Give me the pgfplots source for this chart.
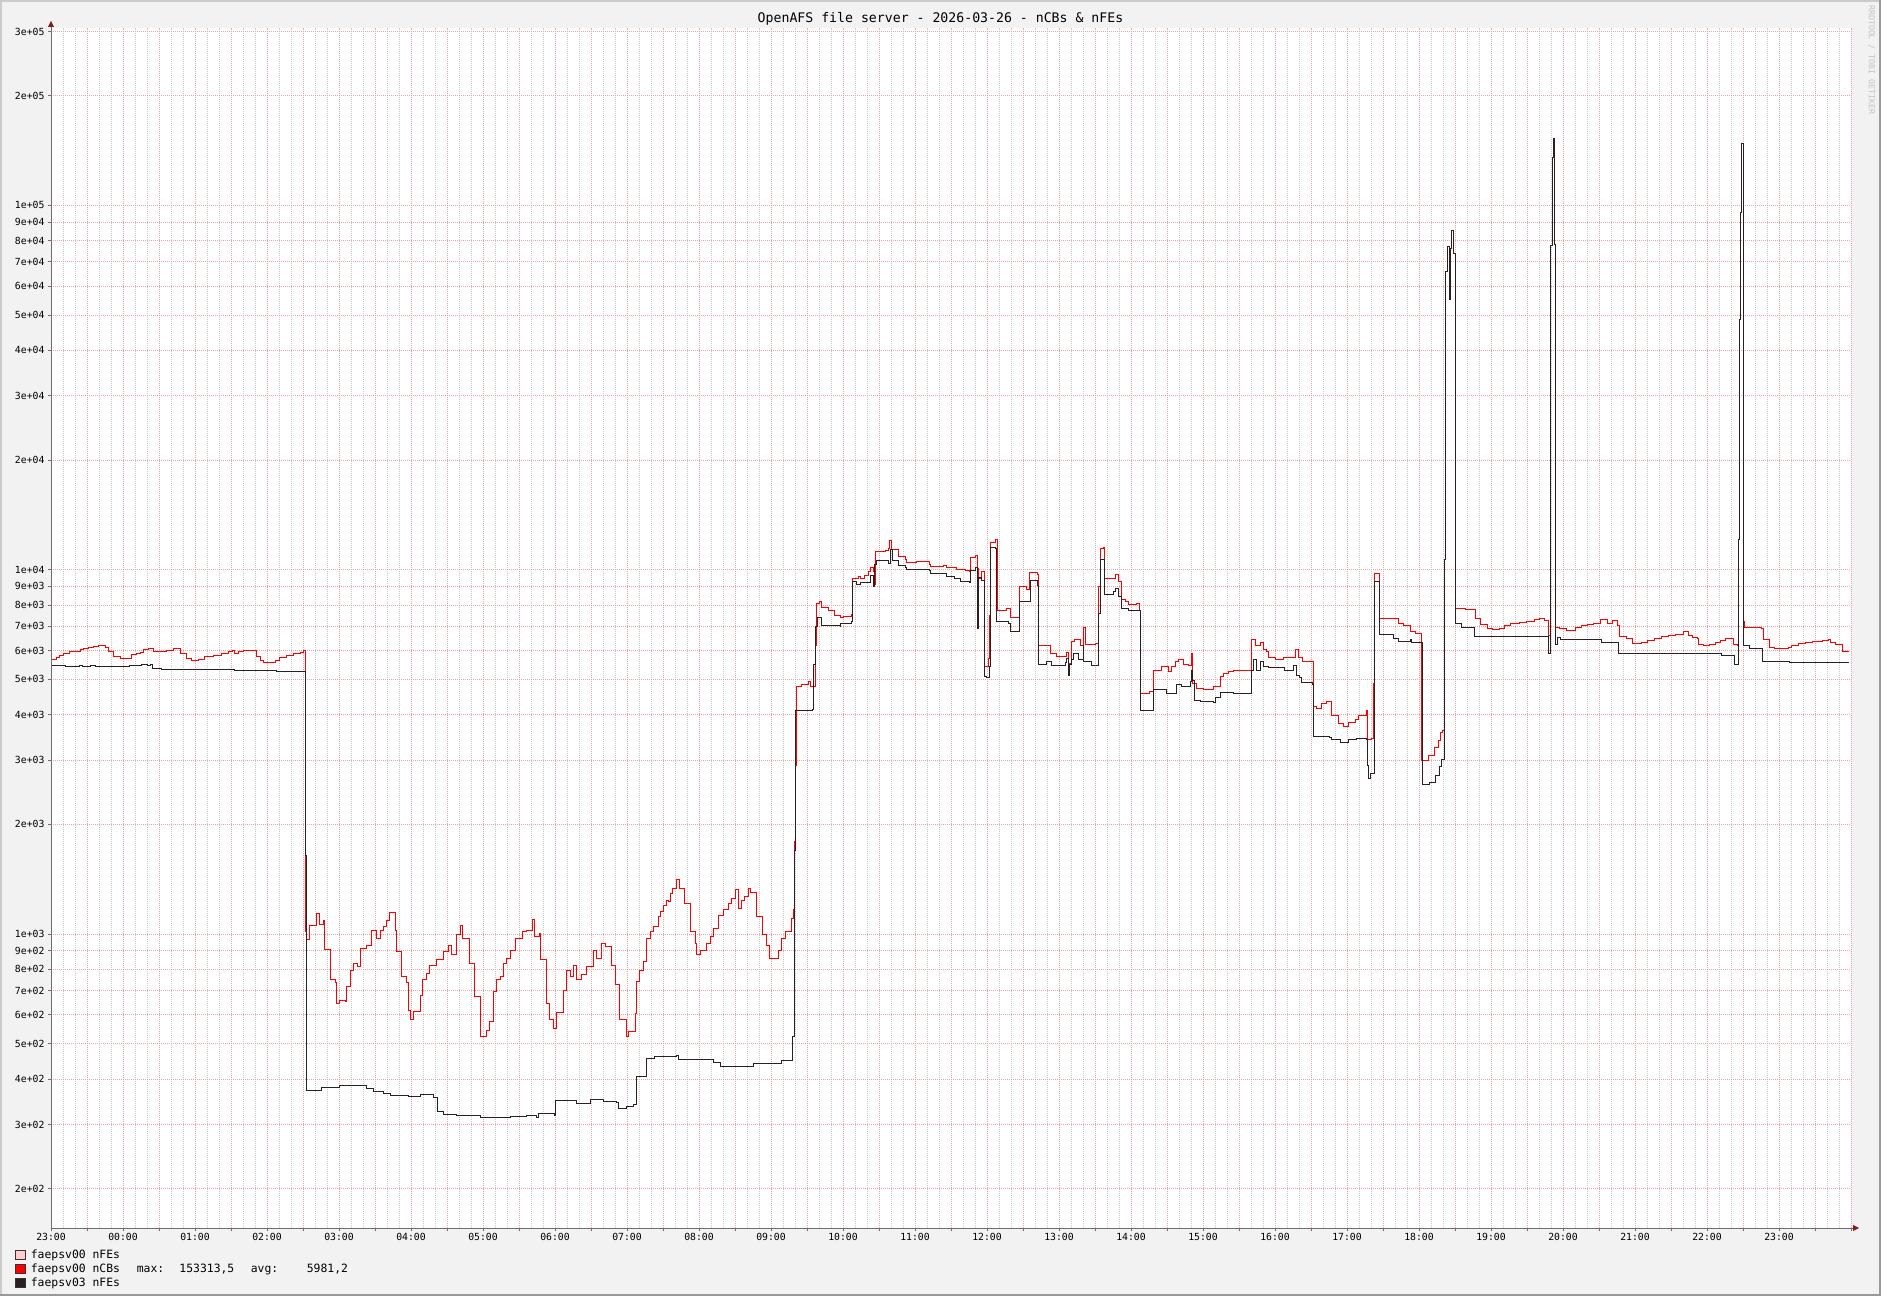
\documentclass[border=0pt]{standalone}
\usepackage{fontspec}
\setmainfont{DejaVu Sans Mono}
\usepackage{pgfplots}
\usepackage{pgfplotstable}
\pgfplotsset{compat=1.18}
\usetikzlibrary{arrows.meta}

\definecolor{bgc}{HTML}{F2F2F2}
\definecolor{shadea}{HTML}{CBCBCB}
\definecolor{shadeb}{HTML}{999999}
\definecolor{mgrid}{HTML}{EBA3A3}
\definecolor{mingrid}{HTML}{C8C8C8}
\definecolor{axisc}{HTML}{6E6E6E}
\definecolor{arrowc}{HTML}{8B1A1A}
\definecolor{ncb}{HTML}{FF0000}
\definecolor{nfe3}{HTML}{2B1F1F}
\definecolor{nfe0}{HTML}{FFCCCC}
\definecolor{legb}{HTML}{333333}
\definecolor{wm}{HTML}{C4C4C4}

% faepsv00 nCBs : minutes since 23:00, value
\pgfplotstableread{
m v
0 5680
4.75 5730
6.9 5830
10.25 5880
15.8 5960
20 5980
24.2 6050
26.9 6070
31.1 6110
35.25 6140
39.4 6180
45 6100
47.75 5980
51.9 5770
57.5 5690
67.25 5850
71.4 5880
74.2 5920
76.9 6030
81.1 6070
85.25 5980
90.8 5960
96.4 6010
101.9 6070
107.5 5900
113.1 5700
117.25 5620
122.75 5660
128.3 5760
135.25 5810
142.25 5880
147.75 5960
151.4 6010
153.3 5900
156.1 5970
160.25 6010
167.25 5990
171.4 5760
174.2 5620
176.9 5550
182.5 5570
186.7 5640
190.8 5740
196.4 5830
201.9 5880
207.5 5930
210.25 5990
211.7 1015
212.5 963
215.8 1058
221.4 1140
223.6 1065
226.9 1087
227.5 908
232.5 748
236.7 737
238.1 643
240.8 659
245 652
246.4 717
249.2 796
251.9 831
255.25 817
257.5 910
263.1 933
267.25 1025
271.4 973
274.2 1025
276.9 1047
279.75 1092
281.9 1144
286.7 1025
287.5 894
292.25 764
296.4 737
297.75 618
299.75 581
301.9 612
307.5 680
309.75 748
313.1 780
315.8 822
321.4 849
326.9 894
331.1 933
333.9 876
338.1 994
341.4 1058
343.1 973
348.6 831
352.75 673
358.1 522
362.5 545
365.8 575
368.6 694
371.4 748
374.2 764
376.9 831
379.75 857
382.5 904
386.7 973
393.1 1015
396.4 1025
401.4 1097
403.3 983
406.9 1004
408.1 849
412.5 645
415.8 583
418.6 551
421.4 610
426.9 702
429.75 796
432.5 764
435.25 822
438.1 748
442.25 772
446.4 813
451.9 904
454.75 857
458.9 943
461.7 923
467.25 822
470 725
473.6 581
479.2 522
481.1 540
486.7 606
488.1 740
490.8 796
493.6 840
496.4 973
499.2 1015
501.9 1047
506.1 1116
507.5 1151
510.25 1201
512.5 1239
514.4 1226
516.4 1293
518.1 1335
521.4 1413
523.6 1335
528.3 1214
532.5 1015
536.7 943
538.1 876
541.4 904
546.4 943
549.2 983
551.9 1036
556.1 1127
560.25 1164
564.4 1214
567.25 1252
570.8 1326
572.75 1176
575.6 1239
578.3 1265
581.1 1335
582.5 1298
588.1 1116
593.1 994
596.4 933
598.6 857
606.1 904
608.9 973
611.7 1015
617.25 1104
618.6 1164
619.4 1800
620.4 2900
621.4 4776
625.6 4850
631.1 4930
632.5 4776
636.7 6200
637.5 7910
638.1 8080
640.8 8200
642.25 7880
647.75 7710
653.3 7500
657.5 7380
660.25 7460
667.25 7550
668.1 9460
672.75 9600
674.2 9460
678.3 9620
681.1 9860
683.1 10170
685.25 9900
686.1 9100
687.25 11220
695 11300
697.75 11400
698.6 12040
700.6 11340
706.1 10850
711.7 10690
712.5 10440
721.4 10530
731.7 10360
732.5 10190
743.6 10250
746.4 10170
754.75 10040
761.7 9975
765.8 9870
766.4 10810
770 10930
771.9 10080
773.3 9460
775.6 9860
777.5 6310
778.3 5420
781.1 5700
782.25 7500
783.1 11840
786.7 12080
788.6 7740
796.4 7850
799.2 7400
806.9 9000
813.1 8850
815.8 9820
821.9 9700
822.75 6180
832.5 5880
838.1 5770
846.4 5910
847.75 5540
850.6 6370
853.3 6450
857.5 6180
860.25 6920
861.7 6250
870 6280
872.75 8980
874.2 11470
876.9 11540
877.5 10170
878.3 9460
886.7 9720
889.4 9270
892.25 8280
895 8200
897.75 8050
904.75 8080
906.9 7740
907.5 4580
915.8 4640
918.6 5300
925.6 5420
931.1 5270
933.9 5420
936.7 5600
939.4 5660
943.6 5510
947.75 5470
950.6 5880
951.4 4880
954.75 4730
960.25 4700
968.6 4776
974.4 5090
977.25 5200
981.4 5250
985.6 5300
1000 5370
1000.8 6440
1003.6 6180
1007.75 6310
1010.6 6050
1013.3 5960
1014.75 5740
1020.25 5660
1027.25 5740
1037 6050
1039.75 5740
1042.5 5600
1051.9 4220
1054.75 4160
1058.9 4300
1063.1 4340
1067.25 3990
1072.75 3790
1076.9 3720
1081.1 3800
1086.7 3870
1089.4 3970
1096.4 4120
1096.9 3410
1100.6 3440
1102 4880
1102.5 9780
1106.9 7350
1122.75 7130
1126.9 7040
1132.5 6770
1136.7 6680
1141.7 4340
1142.25 3000
1147.75 3100
1153.1 3250
1156.4 3390
1158.1 3570
1159.6 3615
1161.25 10640
1162.1 65800
1163.6 77000
1165.25 76000
1167.25 85500
1168.6 73900
1170.25 7850
1178.4 7800
1186.9 7340
1191.2 7060
1196.75 6880
1201 6850
1206.7 6900
1210.9 7030
1216.5 7100
1223.6 7150
1229.25 7210
1236.3 7300
1240.5 7370
1244.75 7260
1247.5 6600
1249.6 77500
1251.1 135000
1251.9 152800
1253.1 78000
1253.6 6950
1257.4 6880
1263.1 6810
1270.2 6960
1275.8 7020
1280 7080
1285.7 7140
1291.3 7290
1297 7140
1301.2 7260
1305.4 7030
1306.8 6550
1312.5 6460
1318.2 6270
1325.2 6330
1330.8 6410
1336.5 6460
1342.1 6550
1347.75 6600
1353.4 6630
1360.5 6760
1364.7 6600
1367.5 6530
1371.75 6460
1373.2 6250
1377.4 6180
1381.7 6230
1387.25 6330
1391.5 6410
1395.75 6460
1400.8 6480
1401.9 6230
1405.6 6200
1406.5 12100
1406.9 48700
1408.1 95500
1408.9 147600
1410.25 7210
1411.25 6950
1425.3 6880
1426.75 6450
1432.4 6120
1436.6 6060
1447.9 6120
1450.75 6180
1456.4 6270
1462 6330
1467.7 6360
1476.1 6410
1480.9 6450
1483.2 6330
1487.4 6230
1493.1 5960
1498.2 5960
}\ncbtab

% faepsv03 nFEs
\pgfplotstableread{
m v
0 5470
11.7 5420
23.6 5470
26.4 5420
32.5 5470
36.7 5420
65.8 5470
75 5510
80.8 5470
82.5 5500
84.2 5350
92.25 5330
153.3 5300
188.1 5260
211.7 1640
212.5 371
225.6 380
240.8 384
263.1 376
268.6 369
276.9 365
282.5 360
297.75 358
307.5 362
318.6 356
321.9 325
326.7 320
338.1 317
357.5 313
368.6 314
382.5 316
396.4 318
404.75 313
406.1 322
419.2 318
420 349
438.1 343
449.2 352
460.25 347
471.4 344
472.75 333
479.75 336
485.25 340
488.1 406
496.4 454
503.3 461
521.4 465
522.75 452
551.9 443
557.5 434
585.25 440
608.9 449
617.9 522
619.2 1700
620.6 4120
634.75 4140
635.8 5500
636.7 7000
638.6 7400
642.25 7040
657.5 7000
658.3 7100
667.25 7200
668.1 9270
671.4 9130
674.2 9230
683.1 9620
685.25 9000
686.1 10360
688.1 10620
697.75 10400
699.2 11340
701.1 10570
706.1 10240
711.7 10170
713.1 10010
731.7 9975
732.5 9740
746.4 9600
753.3 9460
757.5 9300
765.8 9220
766.4 9930
770.8 10170
771.9 6880
772.9 9500
775 9360
777.5 5090
779.2 5050
781.9 5420
783.1 11540
786.7 11400
788.1 7200
797.75 7130
799.2 6770
806.9 8200
816.4 9360
821.9 9060
822.75 5510
829.75 5600
833.9 5470
845 5550
846.4 5700
847.75 5140
848.75 5510
850.6 5660
851.9 5880
856.1 5660
860.25 6180
860.8 5600
867.25 5470
872.75 7570
874.2 10690
878.3 8550
885.25 8720
886.7 8900
889.4 8440
892.25 7850
897.75 7740
906.1 7710
907.5 4120
918.6 4700
929.75 4580
937.5 4830
942.25 4776
949.75 4930
950.6 5300
951.4 4980
952.5 4380
957.5 4340
968.6 4310
970.8 4470
974.2 4610
985.25 4580
1000.8 5300
1002.25 5660
1004.2 5300
1007.75 5600
1010.6 5420
1014.75 5390
1028.3 5300
1035.25 5470
1038.1 5140
1040.8 5050
1042.25 4900
1051.4 4850
1051.9 3480
1065.8 3460
1067.25 3410
1074.2 3350
1081.1 3410
1088.1 3440
1096.4 3420
1096.9 2900
1097.75 2680
1099.2 2760
1102.5 9270
1106.9 6650
1118.6 6480
1122.75 6370
1132.5 6440
1133.9 6310
1143.1 2580
1148.8 2600
1153.6 2730
1157.25 2890
1158.7 3010
1161.25 10640
1162.1 65800
1163.6 77000
1165.25 55000
1166 76000
1167.25 85500
1168.6 73900
1170.25 7100
1175.6 6960
1186.3 6570
1247.5 5900
1249.6 77500
1251.1 135000
1251.9 152800
1253.1 78000
1253.6 6230
1255.2 6510
1257.5 6450
1291.9 6330
1306.25 5880
1392.3 5820
1402.75 5490
1406.5 12100
1406.9 48700
1408.1 95500
1408.9 147600
1410.25 6210
1415.5 6060
1426.2 5610
1448.75 5580
1478.3 5550
1488.25 5580
1498.2 5580
}\nfetab

\begin{document}
\begin{tikzpicture}[x=1pt,y=1pt]
\fill[bgc] (0,0) rectangle (1881,1296);
\fill[shadea] (0,1294) rectangle (1881,1296);
\fill[shadea] (0,0) rectangle (2,1296);
\fill[shadeb] (0,0) rectangle (1881,2);
\fill[shadeb] (1879,0) rectangle (1881,1296);
\useasboundingbox (0,0) rectangle (1881,1296);

\begin{axis}[
  at={(51pt,68pt)}, anchor=south west,
  scale only axis, width=1800pt, height=1200pt,
  xmin=0, xmax=1500,
  ymode=log, ymin=156, ymax=307000,
  axis background/.style={fill=white},
  axis line style={draw=none},
  xtick={0,30,...,1500},
  xticklabels={23:00,,00:00,,01:00,,02:00,,03:00,,04:00,,05:00,,06:00,,07:00,,08:00,,09:00,,10:00,,11:00,,12:00,,13:00,,14:00,,15:00,,16:00,,17:00,,18:00,,19:00,,20:00,,21:00,,22:00,,23:00,,},
  minor x tick num=2,
  ytick={200,300,400,500,600,700,800,900,1000,2000,3000,4000,5000,6000,7000,8000,9000,10000,20000,30000,40000,50000,60000,70000,80000,90000,100000,200000,300000},
  yticklabels={2e+02,3e+02,4e+02,5e+02,6e+02,7e+02,8e+02,9e+02,1e+03,2e+03,3e+03,4e+03,5e+03,6e+03,7e+03,8e+03,9e+03,1e+04,2e+04,3e+04,4e+04,5e+04,6e+04,7e+04,8e+04,9e+04,1e+05,2e+05,3e+05},
  xmajorgrids, xminorgrids, ymajorgrids, yminorgrids=false,
  major grid style={mgrid, line width=1pt, dash pattern=on 1pt off 1pt},
  minor grid style={mingrid, line width=1pt, dash pattern=on 1pt off 1pt},
  tick align=outside, major tick length=3pt, minor tick length=0pt,
  tick style={axisc, line width=1pt},
  tick pos=left,
  ticklabel style={font=\fontsize{9.8}{10}\selectfont, text=black},
  xticklabel style={yshift=1pt},
  /pgf/number format/assume math mode=true,
  legend cell align=left,
  legend image code/.code={\filldraw[#1, draw=legb, line width=0.8pt] (0pt,-4.4pt) rectangle (9.2pt,4.4pt);},
  legend style={at={(axis description cs:-0.0198,-0.0180)}, anchor=north west,
    draw=none, fill=none, inner sep=0pt, outer sep=0pt,
    font=\fontsize{11.4}{12}\selectfont,
    nodes={inner sep=0pt, text height=8.6pt, text depth=2.6pt},
    column sep=5.5pt, row sep=2.8pt},
]
\addlegendimage{color=nfe0}
\addlegendentry{faepsv00 nFEs}
\addplot[ncb, line width=1pt, const plot] table[x=m, y=v] {\ncbtab};
\addlegendentry{\makebox[106pt][l]{faepsv00 nCBs}\makebox[42.6pt][l]{max:}\makebox[71.4pt][l]{153313,5}\makebox[56pt][l]{avg:}5981,2}
\addplot[nfe3, line width=1pt, const plot] table[x=m, y=v] {\nfetab};
\addlegendentry{faepsv03 nFEs}
\end{axis}

% axes with arrows
\draw[axisc, line width=1pt] (51,67.5) -- (51,1271);
\fill[arrowc] (48,1269) -- (54,1269) -- (51,1275) -- cycle;
\draw[axisc, line width=1pt] (50.5,68) -- (1854,68);
\fill[arrowc] (1853,65) -- (1853,71) -- (1859,68) -- cycle;

\node[font=\fontsize{13.2}{14}\selectfont, text=black] at (940.5,1277) {OpenAFS file server - 2026-03-26 - nCBs \& nFEs};
\node[rotate=-90, font=\fontsize{8.3}{9}\selectfont, text=wm] at (1871.5,1236) {RRDTOOL / TOBI OETIKER};
\end{tikzpicture}
\end{document}
